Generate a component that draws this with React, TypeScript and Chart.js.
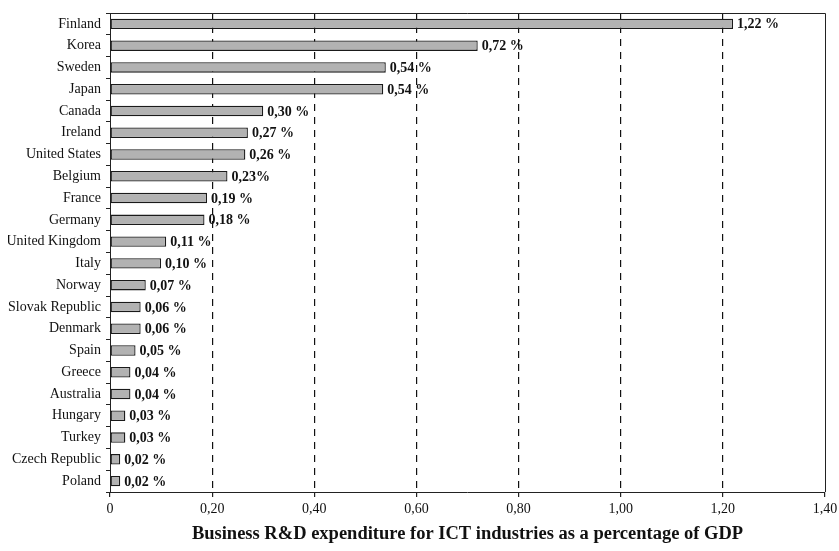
import React, { useEffect, useRef } from "react";
import { Chart, registerables } from "chart.js";

Chart.register(...registerables);

const categories = [
  "Finland", "Korea", "Sweden", "Japan", "Canada", "Ireland", "United States",
  "Belgium", "France", "Germany", "United Kingdom", "Italy", "Norway",
  "Slovak Republic", "Denmark", "Spain", "Greece", "Australia", "Hungary",
  "Turkey", "Czech Republic", "Poland",
];
const values = [
  1.22, 0.72, 0.54, 0.535, 0.3, 0.27, 0.265, 0.23, 0.19, 0.185, 0.11, 0.1,
  0.07, 0.06, 0.06, 0.05, 0.04, 0.04, 0.03, 0.03, 0.02, 0.02,
];
const valueLabels = [
  "1,22 %", "0,72 %", "0,54 %", "0,54 %", "0,30 %", "0,27 %", "0,26 %",
  "0,23%", "0,19 %", "0,18 %", "0,11 %", "0,10 %", "0,07 %", "0,06 %",
  "0,06 %", "0,05 %", "0,04 %", "0,04 %", "0,03 %", "0,03 %", "0,02 %", "0,02 %",
];
const xTickValues = [0, 0.2, 0.4, 0.6, 0.8, 1.0, 1.2, 1.4];
const xTickLabels = ["0", "0,20", "0,40", "0,60", "0,80", "1,00", "1,20", "1,40"];
const axisTitle = "Business R&D expenditure for ICT industries as a percentage of GDP";

const SERIF = "'Liberation Serif', 'Times New Roman', serif";

const barLabelPlugin = {
  id: "barLabels",
  afterDatasetsDraw(chart: any) {
    const ctx = chart.ctx;
    const meta = chart.getDatasetMeta(0);
    ctx.save();
    ctx.font = `bold 14px ${SERIF}`;
    ctx.fillStyle = "#111";
    ctx.textAlign = "left";
    ctx.textBaseline = "middle";
    meta.data.forEach((bar: any, i: number) => {
      ctx.fillText(valueLabels[i], bar.x + 4, bar.y + 1);
    });
    ctx.restore();
  },
};

const frameBorderPlugin = {
  id: "frameBorder",
  afterDraw(chart: any) {
    const { ctx, chartArea } = chart;
    ctx.save();
    ctx.strokeStyle = "#222";
    ctx.lineWidth = 1;
    ctx.beginPath();
    ctx.moveTo(chartArea.left, chartArea.top + 0.5);
    ctx.lineTo(chartArea.right + 0.5, chartArea.top + 0.5);
    ctx.lineTo(chartArea.right + 0.5, chartArea.bottom);
    ctx.stroke();
    ctx.restore();
  },
};

export default function App() {
  const canvasRef = useRef<HTMLCanvasElement | null>(null);

  useEffect(() => {
    document.body.style.margin = "0";
    if (!canvasRef.current) return;
    const chart = new Chart(canvasRef.current, {
      type: "bar",
      data: {
        labels: categories,
        datasets: [
          {
            data: values,
            backgroundColor: "#b2b2b2",
            borderColor: "#1a1a1a",
            borderWidth: 1.3,
            borderSkipped: false,
            categoryPercentage: 1,
            barPercentage: 0.48,
          },
        ],
      },
      options: {
        indexAxis: "y",
        animation: false,
        responsive: false,
        maintainAspectRatio: false,
        layout: { padding: { top: 5, right: 14, left: 0, bottom: 0 } },
        plugins: {
          legend: { display: false },
          tooltip: { enabled: false },
          title: { display: false },
        },
        scales: {
          x: {
            type: "linear",
            min: 0,
            max: 1.4,
            afterBuildTicks(scale: any) {
              scale.ticks = xTickValues.map((v) => ({ value: v }));
            },
            afterFit(scale: any) {
              scale.height = 51;
              scale.paddingLeft = 0;
              scale.paddingRight = 0;
            },
            ticks: {
              color: "#111",
              font: { family: SERIF, size: 14 },
              padding: 4,
              maxRotation: 0,
              autoSkip: false,
              callback: (v: any) => {
                const idx = xTickValues.findIndex((t) => Math.abs(t - Number(v)) < 1e-6);
                return idx >= 0 ? xTickLabels[idx] : "";
              },
            },
            grid: {
              color: (c: any) => {
                const v = c.tick ? c.tick.value : 0;
                return v <= 0.001 || v >= 1.399 ? "rgba(0,0,0,0)" : "#111";
              },
              tickColor: "#222",
              tickLength: 5,
              tickBorderDash: [],
              lineWidth: 1.2,
            },
            border: { display: true, color: "#222", width: 1, dash: [7, 6] },
            title: {
              display: true,
              text: axisTitle,
              color: "#111",
              font: { family: SERIF, size: 18.5, weight: "bold", lineHeight: 1 },
              padding: { top: 6, bottom: 0 },
            },
          },
          y: {
            type: "category",
            afterFit(scale: any) {
              scale.width = 102;
              scale.paddingTop = 0;
              scale.paddingBottom = 0;
            },
            ticks: {
              color: "#111",
              font: { family: SERIF, size: 14 },
              padding: 5,
              autoSkip: false,
            },
            grid: {
              offset: true,
              drawOnChartArea: false,
              tickColor: "#222",
              tickLength: 4,
            },
            border: { display: true, color: "#222", width: 1 },
          },
        },
      },
      plugins: [barLabelPlugin, frameBorderPlugin],
    } as any);
    return () => chart.destroy();
  }, []);

  return (
    <div style={{ paddingTop: 8, paddingLeft: 8, width: 831, height: 535 }}>
      <canvas ref={canvasRef} width={831} height={535} style={{ display: "block" }} />
    </div>
  );
}
